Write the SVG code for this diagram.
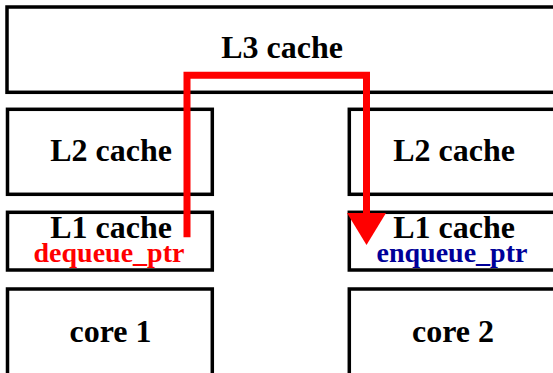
<svg xmlns="http://www.w3.org/2000/svg" width="553" height="373" viewBox="0 0 553 373">
  <defs>
    <style>
      .box { fill: #ffffff; stroke: #000000; stroke-width: 3.5; }
      .lbl { font-family: "Liberation Serif", "Times New Roman", serif; font-weight: bold; font-size: 32px; fill: #000000; text-anchor: middle; }
      .ptr { font-family: "Liberation Serif", "Times New Roman", serif; font-weight: bold; font-size: 28px; text-anchor: middle; }
      .flow { fill: none; stroke: #ff0000; stroke-width: 7; stroke-linejoin: miter; }
    </style>
    <marker id="head" markerUnits="userSpaceOnUse" markerWidth="33" markerHeight="40" viewBox="0 0 33 40" refX="1" refY="19.5" orient="auto">
      <path d="M0,0 L32,19.5 L0,39 z" fill="#ff0000"/>
    </marker>
  </defs>

  <g id="l3">
    <rect class="box" x="7" y="7" width="560" height="85.3"/>
    <text class="lbl" x="282" y="58.3">L3 cache</text>
  </g>

  <g id="l2-left">
    <rect class="box" x="7.5" y="109.3" width="204.8" height="85"/>
    <text class="lbl" x="111" y="161">L2 cache</text>
  </g>
  <g id="l1-left">
    <rect class="box" x="7.5" y="212.3" width="204.8" height="57.7"/>
    <text class="lbl" x="111" y="237.5">L1 cache</text>
    <text class="ptr" x="109" y="262" fill="#ff0000">dequeue_ptr</text>
  </g>
  <g id="core-1">
    <rect class="box" x="7.5" y="289" width="204.8" height="100"/>
    <text class="lbl" x="110.5" y="342">core 1</text>
  </g>

  <g id="l2-right">
    <rect class="box" x="349.3" y="109.3" width="210" height="85"/>
    <text class="lbl" x="454" y="161">L2 cache</text>
  </g>
  <g id="l1-right">
    <rect class="box" x="349.3" y="212.3" width="210" height="57.7"/>
    <text class="lbl" x="454" y="237.5">L1 cache</text>
    <text class="ptr" x="452" y="262" fill="#000099">enqueue_ptr</text>
  </g>
  <g id="core-2">
    <rect class="box" x="349.3" y="289" width="210" height="100"/>
    <text class="lbl" x="453" y="342">core 2</text>
  </g>

  <g id="connectors">
    <path class="flow" d="M187,237.3 V75.3 H366.5 V214" marker-end="url(#head)"/>
  </g>
</svg>
